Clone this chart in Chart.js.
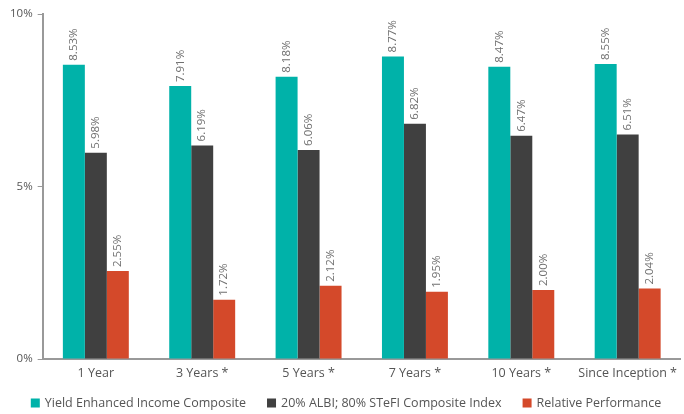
<!DOCTYPE html>
<html>
<head>
<meta charset="utf-8">
<script src="https://cdn.jsdelivr.net/npm/chart.js@4.4.1/dist/chart.umd.min.js"></script>
<style>
  html,body{margin:0;padding:0;background:#fff;}
  #wrap{width:684px;height:414px;}
</style>
</head>
<body>
<div id="wrap"><canvas id="c"></canvas></div>
<script>
const categories = ['1 Year', '3 Years *', '5 Years *', '7 Years *', '10 Years *', 'Since Inception *'];
const composite = [8.53, 7.91, 8.18, 8.77, 8.47, 8.55];
const benchmark = [5.98, 6.19, 6.06, 6.82, 6.47, 6.51];
const relative = [2.55, 1.72, 2.12, 1.95, 2.00, 2.04];
const seriesNames = ['Yield Enhanced Income Composite', '20% ALBI; 80% STeFI Composite Index', 'Relative Performance'];
const yTicks = [0, 5, 10];

const FONT = '"Open Sans", sans-serif';

// vertical value labels above each bar
const barLabels = {
  id: 'barLabels',
  afterDatasetsDraw(chart){
    const ctx = chart.ctx;
    ctx.save();
    ctx.fillStyle = '#707070';
    ctx.font = '11.5px ' + FONT;
    ctx.textAlign = 'left';
    ctx.textBaseline = 'middle';
    chart.data.datasets.forEach((ds, i) => {
      chart.getDatasetMeta(i).data.forEach((bar, j) => {
        ctx.save();
        ctx.translate(bar.x, bar.y - 4);
        ctx.rotate(-Math.PI/2);
        ctx.fillText(ds.data[j].toFixed(2) + '%', 0, 0);
        ctx.restore();
      });
    });
    ctx.restore();
  }
};

// simple one-row legend drawn under the axis
const bottomLegend = {
  id: 'bottomLegend',
  afterDraw(chart){
    const ctx = chart.ctx;
    const box = 9, gapText = 5, gapItem = 21;
    ctx.save();
    ctx.font = '12.5px ' + FONT;
    ctx.textBaseline = 'middle';
    ctx.textAlign = 'left';
    const items = chart.data.datasets.map(ds => ({ text: ds.label, color: ds.backgroundColor, w: ctx.measureText(ds.label).width }));
    const total = items.reduce((s, it) => s + box + gapText + it.w, 0) + gapItem * (items.length - 1);
    let x = (chart.width - total) / 2 + 4;
    const y = chart.height - 11;
    items.forEach(it => {
      ctx.fillStyle = it.color;
      ctx.fillRect(x, y - box/2, box, box);
      ctx.fillStyle = '#555';
      ctx.fillText(it.text, x + box + gapText, y);
      x += box + gapText + it.w + gapItem;
    });
    ctx.restore();
  }
};

new Chart(document.getElementById('c'), {
  type: 'bar',
  data: {
    labels: categories,
    datasets: [
      { label: seriesNames[0], data: composite, backgroundColor: '#00B2A9' },
      { label: seriesNames[1], data: benchmark, backgroundColor: '#404040' },
      { label: seriesNames[2], data: relative, backgroundColor: '#D4492A' }
    ]
  },
  options: {
    responsive: true,
    maintainAspectRatio: false,
    animation: false,
    layout: { padding: { top: 14, right: 0, left: 5, bottom: 26 } },
    datasets: { bar: { categoryPercentage: 0.62, barPercentage: 1 } },
    plugins: {
      legend: { display: false },
      tooltip: { enabled: false }
    },
    scales: {
      x: {
        grid: { display: false, drawTicks: false },
        border: { color: '#999', width: 2 },
        ticks: { color: '#555', font: { family: FONT, size: 12.5 }, padding: 7, maxRotation: 0 }
      },
      y: {
        min: 0, max: 10,
        afterBuildTicks(axis){ axis.ticks = yTicks.map(v => ({ value: v })); },
        grid: { display: true, drawOnChartArea: false, tickLength: 5, color: '#999' },
        border: { color: '#999', width: 2 },
        ticks: { color: '#555', font: { family: FONT, size: 11.5 }, padding: 5, callback: v => v + '%' }
      }
    }
  },
  plugins: [barLabels, bottomLegend]
});
</script>
</body>
</html>
